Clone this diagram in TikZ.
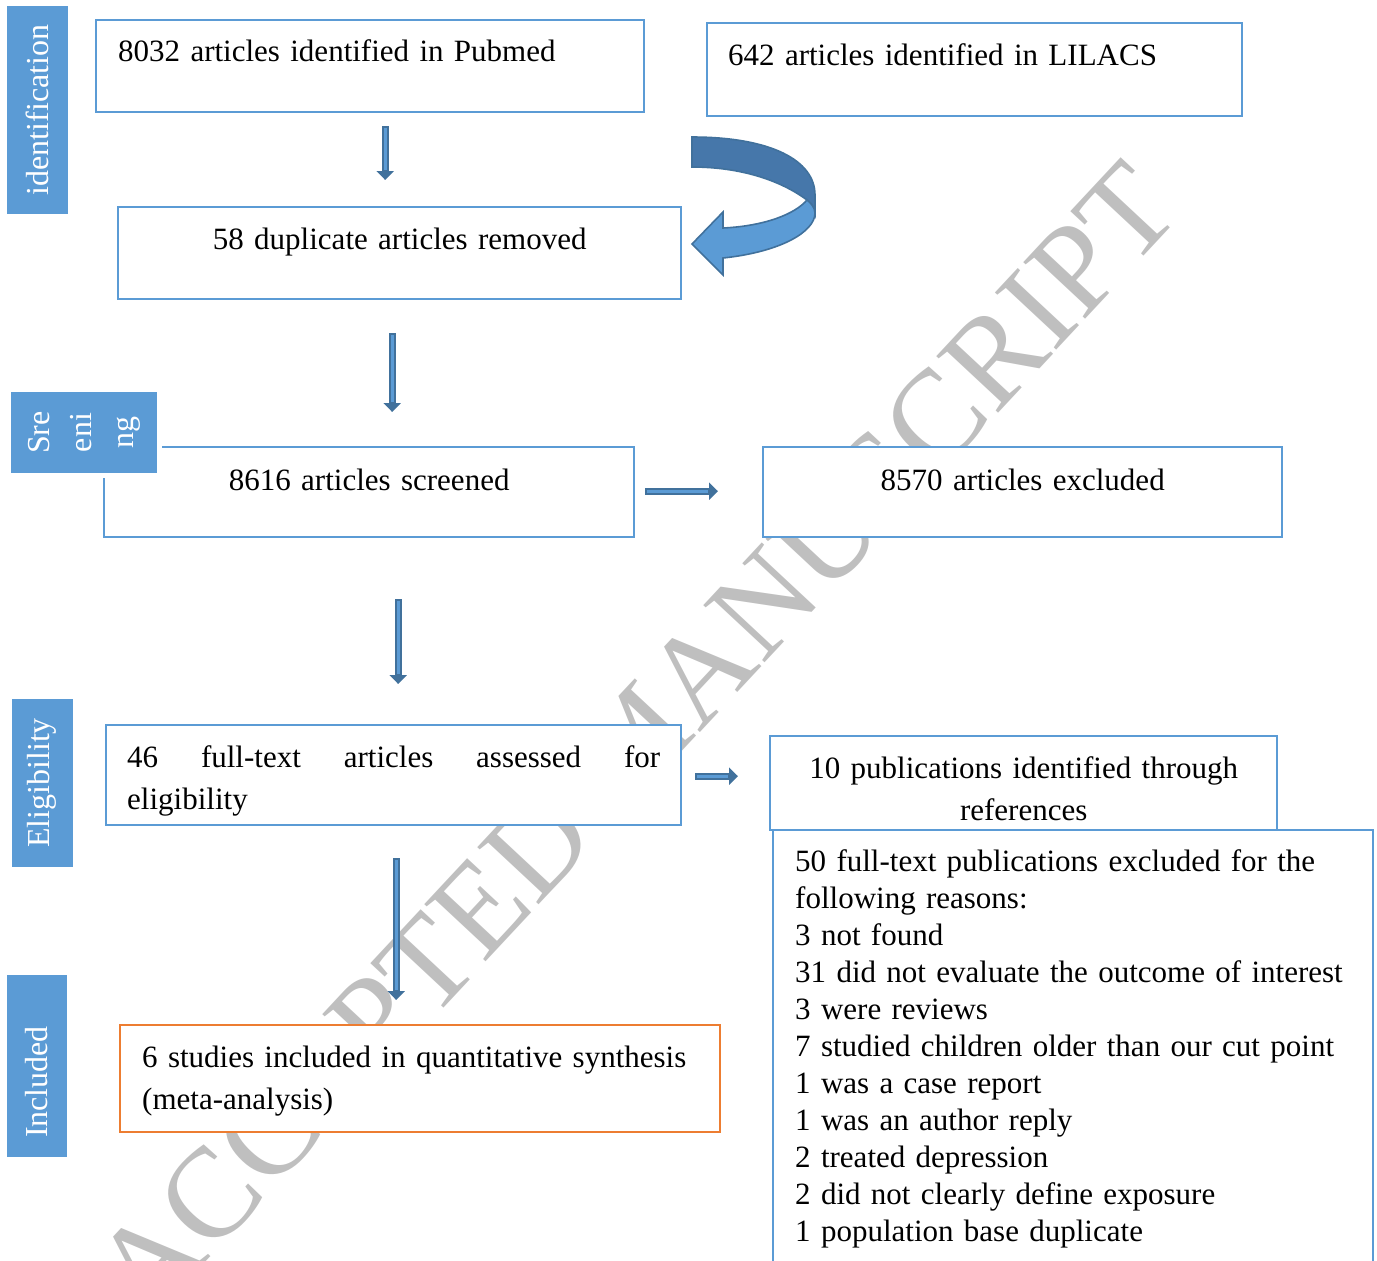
\documentclass[tikz,border=0pt]{standalone}
\usepackage{fontspec}
\setmainfont{Liberation Serif}
\usetikzlibrary{arrows.meta, calc}

\definecolor{boxblue}{HTML}{5B9BD5}
\definecolor{arrowdark}{HTML}{41719C}
\definecolor{arrowlight}{HTML}{5B9BD5}
\definecolor{curvedark}{HTML}{4677AA}
\definecolor{orangebox}{HTML}{ED7D31}
\definecolor{wmgray}{RGB}{191,191,191}

\begin{document}
\begin{tikzpicture}[x=0.5pt, y=-0.5pt,
    box/.style={draw=boxblue, line width=1.2pt, fill=white, anchor=north west, inner ysep=0pt, font=\fontsize{15.5}{21}\selectfont},
    phase/.style={fill=boxblue, text=white, rotate=90, inner sep=0pt, align=center, font=\fontsize{16}{21}\selectfont},
    flowarrow/.style={draw=arrowdark, line width=3.4pt, -{Triangle[width=8.5pt,length=4.5pt]}, postaction={draw=arrowlight, line width=1.4pt, -, shorten >=5pt, shorten <=0.7pt}}
]

\useasboundingbox (0,0) rectangle (1377,1260);
\clip (0,0) rectangle (1377,1260);

\node[text=wmgray, rotate=47, font=\fontsize{64}{64}\selectfont] (watermark) at (636,740) {ACCEPTED MANUSCRIPT};

\node[box, text width=252pt, inner xsep=11pt, text height=20.5pt, text depth=25.5pt, align=left] (pubmed) at (95,19) {8032 articles identified in Pubmed};
\node[box, text width=246.5pt, inner xsep=10.5pt, text height=21pt, text depth=25.5pt, align=left] (lilacs) at (706,22) {642 articles identified in LILACS};
\node[box, text width=259.5pt, inner xsep=11pt, text height=21pt, text depth=25pt, align=center] (dupl) at (117,206) {58 duplicate articles removed};
\node[box, text width=243pt, inner xsep=11pt, text height=21.5pt, text depth=23.5pt, align=center] (screened) at (103,446) {8616 articles screened};
\node[box, text width=237.5pt, inner xsep=11pt, text height=21.5pt, text depth=23.5pt, align=center] (excluded) at (762,446) {8570 articles excluded};
\node[box, text width=266.5pt, inner xsep=10.5pt, text height=21pt, text depth=29pt, align=justify] (fulltext) at (105,724) {46 full-text articles assessed for\linebreak eligibility};
\node[box, text width=231.5pt, inner xsep=11pt, text height=21pt, text depth=26pt, align=center] (refs) at (769,735) {10 publications identified through\\references};
\node[box, text width=278pt, inner xsep=11pt, text height=20.5pt, text depth=202.5pt, align=left, font=\fontsize{15.5}{18.5}\selectfont] (reasons) at (772,829) {
    50 full-text publications excluded for the\\
    following reasons:\\
    3 not found\\
    31 did not evaluate the outcome of interest\\
    3 were reviews\\
    7 studied children older than our cut point\\
    1 was a case report\\
    1 was an author reply\\
    2 treated depression\\
    2 did not clearly define exposure\\
    1 population base duplicate};
\node[box, draw=orangebox, text width=278pt, inner xsep=11pt, text height=21pt, text depth=32.5pt, align=left] (included) at (119,1024) {6 studies included in quantitative synthesis\\(meta-analysis)};

\node[phase, minimum width=104pt, minimum height=30.5pt] (identlab) at (37.5,110) {identification};
\node[phase, draw=white, line width=2.5pt, minimum width=43pt, minimum height=75.5pt] (screenlab) at (84,432.5) {Sre\\eni\\ng};
\node[phase, minimum width=84pt, minimum height=30.5pt] (eliglab) at (42,783) {Eligibility};
\node[phase, minimum width=91pt, minimum height=30pt] (inclab) at (37,1066) {\hspace*{-16pt}Included};

\path[fill=curvedark, draw=arrowdark, line width=0.8pt] (692,137) .. controls (770,137) and (815,160) .. (815,195) -- (815,213) .. controls (814,207) and (811,203) .. (807,200) .. controls (780,180) and (740,167) .. (692,167) -- cycle;
\path[fill=arrowlight, draw=arrowdark, line width=0.8pt] (807,200) .. controls (811,203) and (815,208) .. (815,213) .. controls (815,232) and (780,252) .. (723,258) -- (723,275) -- (692,244) -- (723,212) -- (723,228) .. controls (765,226) and (795,214) .. (807,200) -- cycle;

\draw[flowarrow] ($(pubmed.south)+(15,13)$) -- ($(dupl.north)+(-14.5,-26)$);
\draw[flowarrow] ($(dupl.south)+(-7.5,33)$) -- ($(screened.north)+(23,-34)$);
\draw[flowarrow] ($(screened.east)+(10,-1)$) -- ($(excluded.west)+(-44,-1)$);
\draw[flowarrow] ($(screened.south)+(29,61)$) -- ($(fulltext.north)+(4.5,-40)$);
\draw[flowarrow] ($(fulltext.east)+(13,1)$) -- ($(refs.west)+(-31,-7)$);
\draw[flowarrow] ($(fulltext.south)+(2.5,32)$) -- ($(included.north)+(-24,-24)$);

\end{tikzpicture}
\end{document}
